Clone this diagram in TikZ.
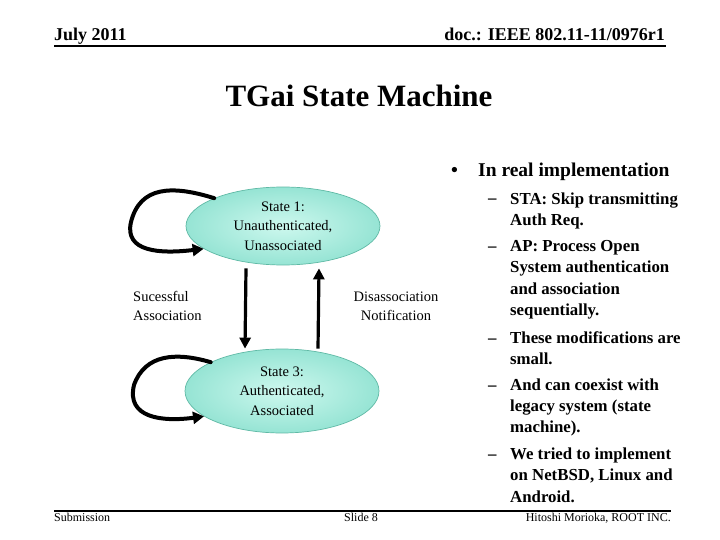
\documentclass[tikz,border=0pt]{standalone}
\usepackage{fontspec}
\setmainfont{Liberation Serif}
\usetikzlibrary{shapes.geometric,arrows.meta,calc}
\definecolor{stfill}{RGB}{205,248,238}
\definecolor{stedge}{RGB}{150,228,212}
\definecolor{stline}{RGB}{95,185,165}
\tikzset{
  statebox/.style={ellipse, draw=stline, line width=0.7pt, shading=radial,
    inner color=stfill, outer color=stedge, minimum width=194pt,
    minimum height=78pt, inner sep=0pt, align=center,
    font=\fontsize{14.5}{19.5}\selectfont},
  transarrow/.style={line width=3.2pt, -{Triangle[length=11pt,width=11pt]}},
  loopline/.style={line width=4pt, line cap=round, -{Triangle[length=11pt,width=12pt]}},
  lbl/.style={font=\fontsize{14.5}{19}\selectfont, inner sep=0pt},
  subtxt/.style={font=\fontsize{16.8}{21.4}\selectfont\bfseries, align=left, anchor=base west, inner sep=0pt},
  dashtxt/.style={font=\fontsize{16.8}{21.4}\selectfont\bfseries, anchor=base west, inner sep=0pt},
  foot/.style={font=\fontsize{12}{14}\selectfont, inner sep=0pt},
  rulebar/.style={line width=2pt}
}
\begin{document}
\begin{tikzpicture}[x=1pt,y=-1pt]
\useasboundingbox (0,0) rectangle (720,540);
% header
\node[font=\fontsize{18}{20}\selectfont\bfseries, anchor=base west, inner sep=0pt] (hl) at (54,41) {July 2011};
\node[font=\fontsize{18}{20}\selectfont\bfseries, anchor=base east, inner sep=0pt] (hr) at (665,41) {doc.: IEEE 802.11-11/0976r1};
\coordinate (hla) at (54,46.5);
\coordinate (hlb) at (666,46.5);
\draw[rulebar] (hla) -- (hlb);
% title
\node[font=\fontsize{31}{34}\selectfont\bfseries, anchor=base, inner sep=0pt] (title) at (359,107) {TGai State Machine};
% states
\node[statebox] (s1) at (283,226) {State 1:\\Unauthenticated,\\Unassociated};
\node[statebox, minimum height=84pt] (s3) at (282,391) {State 3:\\Authenticated,\\Associated};
% transitions
\draw[transarrow] ($(s1.south)+(-37,3)$) -- ($(s3.north)+(-37,0)$);
\draw[transarrow] ($(s3.north)+(36,0)$) -- ($(s1.south)+(36,3)$);
\node[lbl, anchor=base west, align=left] (la) at (133,320) {Sucessful\\Association};
\node[lbl, anchor=base, align=center] (lb) at (396,320) {Disassociation\\Notification};
% self loops
\draw[loopline] (s1.158) .. controls (172,185) and (140,186) .. (131,222)
  .. controls (124,252) and (160,254) .. (s1.196);
\draw[loopline] (s3.158) .. controls (176,352) and (145,354) .. (134,385)
  .. controls (126,418) and (162,422) .. (s3.198);
% bullet list
\node[font=\fontsize{19.5}{22}\selectfont\bfseries, anchor=base west, inner sep=0pt] (bul) at (451,177) {•};
\node[font=\fontsize{19.5}{22}\selectfont\bfseries, anchor=base west, inner sep=0pt] (head) at (478,177) {In real implementation};
\node[dashtxt] (d1) at (488,204) {–};
\node[subtxt] (i1) at (510,225.4) {STA: Skip transmitting\\Auth Req.};
\node[dashtxt] (d2) at (488,251.5) {–};
\node[subtxt] (i2) at (510,315.7) {AP: Process Open\\System authentication\\and association\\sequentially.};
\node[dashtxt] (d3) at (488,343.5) {–};
\node[subtxt] (i3) at (510,364.9) {These modifications are\\small.};
\node[dashtxt] (d4) at (488,390) {–};
\node[subtxt] (i4) at (510,432.8) {And can coexist with\\legacy system (state\\machine).};
\node[dashtxt] (d5) at (488,459.5) {–};
\node[subtxt] (i5) at (510,502.3) {We tried to implement\\on NetBSD, Linux and\\Android.};
% footer
\coordinate (fla) at (54,511);
\coordinate (flb) at (671,511);
\draw[rulebar] (fla) -- (flb);
\node[foot, anchor=base west] (f1) at (54,521.5) {Submission};
\node[foot, anchor=base] (f2) at (361,521.5) {Slide 8};
\node[foot, anchor=base east] (f3) at (671,521.5) {Hitoshi Morioka, ROOT INC.};
\end{tikzpicture}
\end{document}
